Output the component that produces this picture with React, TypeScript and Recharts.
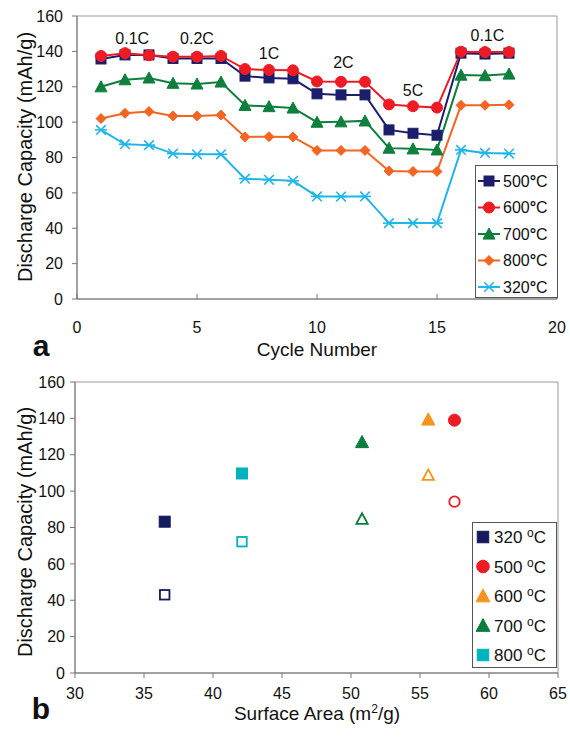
import React from "react";
import {
  LineChart,
  Line,
  XAxis,
  YAxis,
  ReferenceArea,
  ReferenceDot,
  Legend,
  ScatterChart,
  Scatter,
} from "recharts";

const FONT = '"Liberation Sans", Arial, sans-serif';
const AXIS = "#777";

// panel a: discharge capacity vs cycle number
const cycles = [1, 2, 3, 4, 5, 6, 7, 8, 9, 10, 11, 12, 13, 14, 15, 16, 17, 18];
const cap500 = [135.7, 138, 138, 136, 136, 136, 126, 125, 124.5, 116, 115.4, 115.4, 95.6, 93.7, 92.6, 139, 138.5, 139];
const cap600 = [137.4, 139, 137.8, 137, 137, 137.4, 130, 129.5, 129.3, 123, 122.8, 122.8, 110, 109, 108.2, 139.8, 139.6, 139.6];
const cap700 = [120, 124, 125, 122, 121.6, 122.7, 109.5, 108.8, 108, 100, 100.2, 100.7, 85.3, 84.9, 84.3, 126.6, 126.3, 127.2];
const cap800 = [102, 105, 106, 103.5, 103.5, 104, 91.6, 91.8, 91.6, 84, 84, 84, 72.4, 72.1, 72.1, 109.5, 109.5, 109.8];
const cap320 = [95.6, 87.5, 87, 82.2, 81.8, 81.8, 68, 67.4, 66.8, 58, 57.9, 58, 42.9, 42.9, 42.9, 84.3, 82.6, 82.2];
const cycleTicks = [0, 5, 10, 15, 20];
const capTicks = [0, 20, 40, 60, 80, 100, 120, 140, 160];

// C-rate labels (data coordinates)
const rateLabels = [
  { x: 2.3, y: 147.5, text: "0.1C" },
  { x: 5.0, y: 147.5, text: "0.2C" },
  { x: 8.0, y: 139, text: "1C" },
  { x: 11.1, y: 134, text: "2C" },
  { x: 14.0, y: 118, text: "5C" },
  { x: 17.1, y: 149, text: "0.1C" },
];

const seriesA = [
  { key: "c500", temp: "500", color: "#1b1f6b", shape: "square", values: cap500 },
  { key: "c600", temp: "600", color: "#ed1c24", shape: "circle", values: cap600 },
  { key: "c700", temp: "700", color: "#0f7f3e", shape: "triangle", values: cap700 },
  { key: "c800", temp: "800", color: "#f26522", shape: "diamond", values: cap800 },
  { key: "c320", temp: "320", color: "#22b5e8", shape: "star", values: cap320 },
];

const dataA = cycles.map((c, i) => {
  const row: any = { cycle: c };
  seriesA.forEach((s) => (row[s.key] = s.values[i]));
  return row;
});

// panel b: capacity vs surface area (filled = high value, open = low value)
const tempsB = ["320", "500", "600", "700", "800"];
const surfaceArea = [36.5, 57.5, 55.6, 50.8, 42.1];
const capFilled = [83.2, 139, 139.4, 127, 109.7];
const capOpen = [43, 94.2, 108.8, 84.7, 72.2];
const colorsB = ["#141a5e", "#ed1c24", "#f7941d", "#0b7d3e", "#00b2bb"];
const shapesB = ["square", "circle", "triangle", "triangle", "square"];
const areaTicks = [30, 35, 40, 45, 50, 55, 60, 65];

function Marker({ shape, cx, cy, color, size = 1, open = false }: any) {
  if (cx == null || cy == null) return null;
  const fill = open ? "#fff" : color;
  const sw = open ? 1.8 : 1;
  if (shape === "square") {
    const h = 5 * size;
    return <rect x={cx - h} y={cy - h} width={2 * h} height={2 * h} fill={fill} stroke={color} strokeWidth={sw} />;
  }
  if (shape === "circle") {
    return <circle cx={cx} cy={cy} r={5.5 * size} fill={fill} stroke={color} strokeWidth={sw} />;
  }
  if (shape === "triangle") {
    const h = 6 * size;
    return (
      <polygon
        points={`${cx},${cy - h} ${cx + h},${cy + h * 0.85} ${cx - h},${cy + h * 0.85}`}
        fill={fill}
        stroke={color}
        strokeWidth={sw}
      />
    );
  }
  if (shape === "diamond") {
    const h = 5 * size;
    return <polygon points={`${cx},${cy - h} ${cx + h},${cy} ${cx},${cy + h} ${cx - h},${cy}`} fill={fill} stroke={color} />;
  }
  const h = 6 * size;
  return (
    <g stroke={color} strokeWidth={1.6}>
      <line x1={cx - h} y1={cy} x2={cx + h} y2={cy} />
      <line x1={cx - h * 0.8} y1={cy - h * 0.8} x2={cx + h * 0.8} y2={cy + h * 0.8} />
      <line x1={cx - h * 0.8} y1={cy + h * 0.8} x2={cx + h * 0.8} y2={cy - h * 0.8} />
    </g>
  );
}

function LegendA() {
  return (
    <div style={{ width: 83, height: 133, border: "1px solid #555", background: "#fff", boxSizing: "border-box" }}>
      <svg width={81} height={131}>
        {seriesA.map((s, i) => {
          const y = 15 + i * 26.5;
          return (
            <g key={s.key}>
              <line x1={2} x2={24} y1={y} y2={y} stroke={s.color} strokeWidth={2} />
              <Marker shape={s.shape} cx={13} cy={y} color={s.color} />
              <text x={27} y={y} dy="0.36em" fontSize={16} fontFamily={FONT} fill="#111">
                {s.temp}
                <tspan fontWeight="bold">°</tspan>C
              </text>
            </g>
          );
        })}
      </svg>
    </div>
  );
}

function LegendB() {
  return (
    <div style={{ width: 85, height: 146, border: "1px solid #555", background: "#fff", boxSizing: "border-box" }}>
      <svg width={83} height={144}>
        {tempsB.map((t, i) => {
          const y = 14 + i * 29.5;
          return (
            <g key={t}>
              <Marker shape={shapesB[i]} cx={10} cy={y} color={colorsB[i]} size={1.15} />
              <text x={21} y={y} dy="0.36em" fontSize={17} fontFamily={FONT} fill="#111">
                {t} <tspan dy={-6} fontSize={12}>o</tspan>
                <tspan dy={6}>C</tspan>
              </text>
            </g>
          );
        })}
      </svg>
    </div>
  );
}

const tickStyle = { fontSize: 16, fontFamily: FONT, fill: "#111" };

function Title({ x, y, size, rotate = false, bold = false, children }: any) {
  return (
    <div
      style={{
        position: "absolute",
        left: x,
        top: y,
        transform: `translate(-50%, -50%)${rotate ? " rotate(-90deg)" : ""}`,
        fontFamily: FONT,
        fontSize: size,
        fontWeight: bold ? "bold" : "normal",
        whiteSpace: "nowrap",
        color: "#111",
        lineHeight: 1,
      }}
    >
      {children}
    </div>
  );
}

export default function App() {
  return (
    <div style={{ position: "absolute", left: 0, top: 0, width: 570, height: 743, background: "#fff" }}>
      <div style={{ position: "absolute", left: 0, top: 0 }}>
        <LineChart width={570} height={370} data={dataA} margin={{ top: 16, right: 13, bottom: 41, left: 0 }}>
          <ReferenceArea x1={0} x2={20} y1={0} y2={160} fill="none" stroke="#999" />
          <XAxis
            dataKey="cycle"
            type="number"
            domain={[0, 20]}
            ticks={cycleTicks}
            height={30}
            stroke={AXIS}
            tickSize={-5}
            tickMargin={28}
            tick={tickStyle}
          />
          <YAxis
            type="number"
            domain={[0, 160]}
            ticks={capTicks}
            width={77}
            stroke={AXIS}
            tickSize={5}
            tickMargin={9}
            tick={tickStyle}
          />
          {seriesA.map((s) => (
            <Line
              key={s.key}
              dataKey={s.key}
              stroke={s.color}
              strokeWidth={2}
              isAnimationActive={false}
              dot={(p: any) => <Marker key={`${s.key}-${p.index}`} shape={s.shape} cx={p.cx} cy={p.cy} color={s.color} />}
              activeDot={false}
            />
          ))}
          {rateLabels.map((r, i) => (
            <ReferenceDot
              key={i}
              x={r.x}
              y={r.y}
              r={0}
              fill="none"
              stroke="none"
              label={{ value: r.text, position: "center", fontSize: 16, fontFamily: FONT, fill: "#111" }}
            />
          ))}
          <Legend
            layout="vertical"
            verticalAlign="middle"
            align="center"
            content={() => <LegendA />}
            wrapperStyle={{ left: 475, top: 165, width: 83, height: 133 }}
          />
        </LineChart>
      </div>

      <div style={{ position: "absolute", left: 0, top: 370 }}>
        <ScatterChart width={570} height={373} margin={{ top: 12, right: 12, bottom: 40, left: 0 }}>
          <ReferenceArea x1={30} x2={65} y1={0} y2={160} fill="none" stroke="#999" />
          <XAxis
            dataKey="x"
            type="number"
            domain={[30, 65]}
            ticks={areaTicks}
            height={30}
            stroke={AXIS}
            tickSize={5}
            tickMargin={10}
            tick={tickStyle}
          />
          <YAxis
            dataKey="y"
            type="number"
            domain={[0, 160]}
            ticks={capTicks}
            width={75}
            stroke={AXIS}
            tickSize={5}
            tickMargin={5}
            tick={tickStyle}
          />
          {tempsB.map((t, i) => (
            <Scatter
              key={`f${t}`}
              data={[{ x: surfaceArea[i], y: capFilled[i] }]}
              isAnimationActive={false}
              shape={(p: any) => <Marker shape={shapesB[i]} cx={p.cx} cy={p.cy} color={colorsB[i]} size={1.1} />}
            />
          ))}
          {tempsB.map((t, i) => (
            <Scatter
              key={`o${t}`}
              data={[{ x: surfaceArea[i], y: capOpen[i] }]}
              isAnimationActive={false}
              legendType="none"
              shape={(p: any) => <Marker shape={shapesB[i]} cx={p.cx} cy={p.cy} color={colorsB[i]} size={0.95} open />}
            />
          ))}
          <Legend
            layout="vertical"
            verticalAlign="middle"
            align="center"
            content={() => <LegendB />}
            wrapperStyle={{ left: 472, top: 152, width: 85, height: 146 }}
          />
        </ScatterChart>
      </div>

      <Title x={25} y={157} size={20} rotate>
        Discharge Capacity (mAh/g)
      </Title>
      <Title x={317} y={349} size={19}>
        Cycle Number
      </Title>
      <Title x={41} y={346} size={30} bold>
        a
      </Title>

      <Title x={25} y={532} size={20} rotate>
        Discharge Capacity (mAh/g)
      </Title>
      <Title x={317} y={713} size={19}>
        Surface Area (m<sup style={{ fontSize: 12 }}>2</sup>/g)
      </Title>
      <Title x={41} y={709} size={30} bold>
        b
      </Title>
    </div>
  );
}
